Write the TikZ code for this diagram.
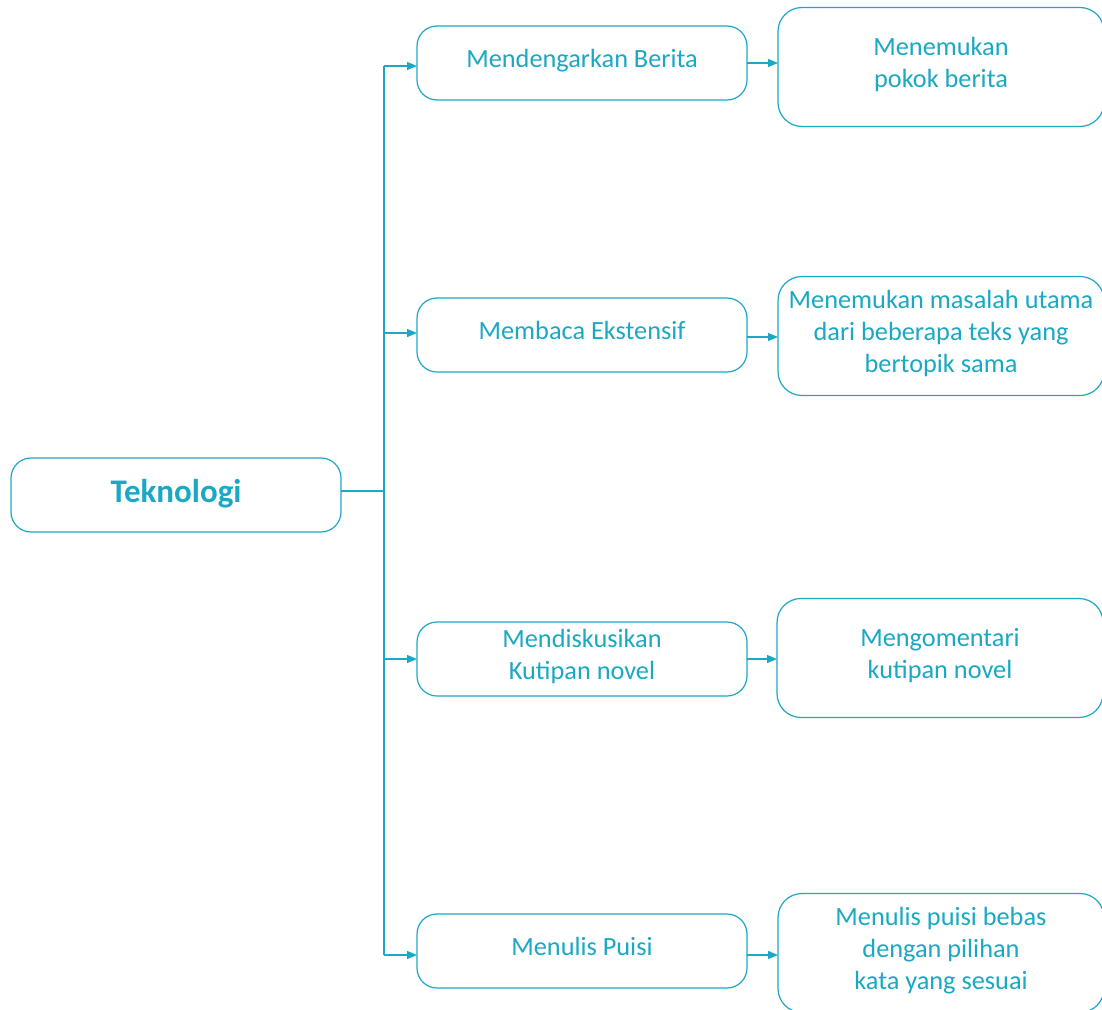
\documentclass[tikz,border=0pt]{standalone}
\usepackage{fontspec}
\setmainfont{Carlito}
\usetikzlibrary{arrows.meta}
\definecolor{teal}{RGB}{27,168,196}
\begin{document}
\begin{tikzpicture}[x=1pt,y=-1pt,
  conn/.style={draw=teal,line width=1.2pt},
  arr/.style={conn,-{Triangle[length=10pt,width=8pt]}},
  box/.style={draw=teal,line width=1.2pt,rounded corners=20pt,inner sep=0pt,outer sep=0pt,
    text=teal,align=center,text depth=10pt,font=\fontsize{26.3}{32}\selectfont},
  midbox/.style={box,minimum width=330pt,minimum height=74pt},
  endbox/.style={box,minimum width=326pt,minimum height=119pt,rounded corners=24pt}]
\useasboundingbox (0,0) rectangle (1102,1009);
\fill[white] (0,0) rectangle (1102,1009);

% root
\node[midbox,text depth=8pt,font=\fontsize{33}{36}\selectfont\bfseries] (tek) at (176,495) {Teknologi};

% activities
\node[midbox] (b1) at (582,63) {Mendengarkan Berita};
\node[midbox] (b2) at (582,335) {Membaca Ekstensif};
\node[midbox] (b3) at (582,659) {Mendiskusikan\\Kutipan novel};
\node[midbox] (b4) at (582,951) {Menulis Puisi};

% outcomes
\node[endbox] (r1) at (941,67) {Menemukan\\pokok berita};
\node[endbox] (r2) at (941,336) {Menemukan masalah utama\\dari beberapa teks yang\\bertopik sama};
\node[endbox] (r3) at (940,658) {Mengomentari\\kutipan novel};
\node[endbox] (r4) at (941,953) {Menulis puisi bebas\\dengan pilihan\\kata yang sesuai};

% trunk
\coordinate (j) at (384,491);
\coordinate (t1) at (384,66);
\coordinate (t2) at (384,333);
\coordinate (t3) at (384,659);
\coordinate (t4) at (384,955);
\draw[conn] (tek.east |- j) -- (j);
\draw[conn] (t1) -- (t4);
\draw[arr] (t1) -- (t1 -| b1.west);
\draw[arr] (t2) -- (t2 -| b2.west);
\draw[arr] (t3) -- (t3 -| b3.west);
\draw[arr] (t4) -- (t4 -| b4.west);

% activity to outcome
\draw[arr] (b1.east) -- (b1.east -| r1.west);
\draw[arr] ([yshift=-2pt]b2.east) -- ([yshift=-2pt]b2.east -| r2.west);
\draw[arr] (b3.east) -- (b3.east -| r3.west);
\draw[arr] ([yshift=-4pt]b4.east) -- ([yshift=-4pt]b4.east -| r4.west);
\end{tikzpicture}
\end{document}
